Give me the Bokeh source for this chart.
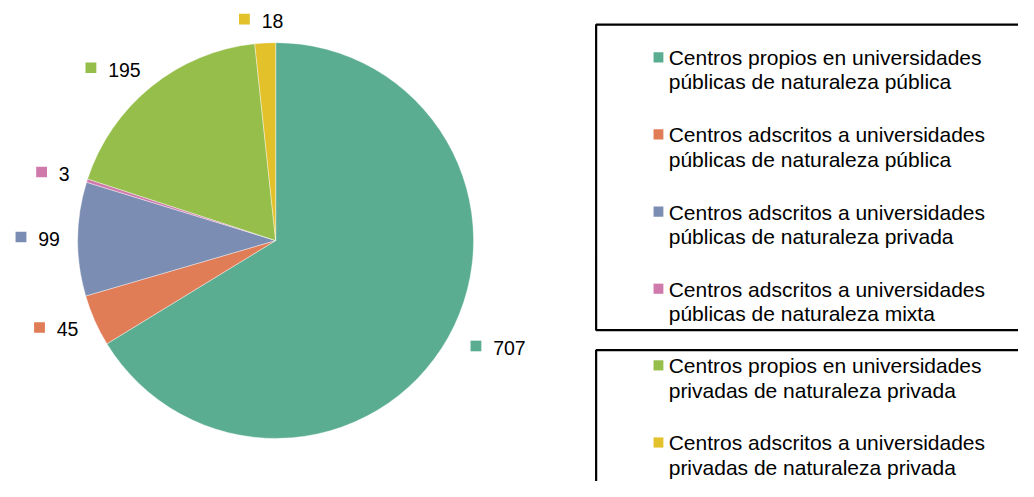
import numpy as np
from bokeh.plotting import figure
from bokeh.models import Range1d, ColumnDataSource
from bokeh.core.properties import value
from bokeh.embed import file_html
from bokeh.resources import INLINE

# ---- data ----
categories = [
    "Centros propios en universidades\npúblicas de naturaleza pública",
    "Centros adscritos a universidades\npúblicas de naturaleza pública",
    "Centros adscritos a universidades\npúblicas de naturaleza privada",
    "Centros adscritos a universidades\npúblicas de naturaleza mixta",
    "Centros propios en universidades\nprivadas de naturaleza privada",
    "Centros adscritos a universidades\nprivadas de naturaleza privada",
]
values = [707, 45, 99, 3, 195, 18]
colors = ["#5aad91", "#e07c56", "#7b8db2", "#d07aac", "#95be4a", "#e2c12a"]
legend_groups = [0, 0, 0, 0, 1, 1]

# ---- layout: data space = reference pixel space (y up) ----
W, H = 1018, 481
RW, RH = 1034, 497
FONT = "Liberation Sans"
cx, cy, R = 279.5, RH - 248.0, 201.0

p = figure(width=W, height=H, output_backend="svg", toolbar_location=None,
           x_range=Range1d(0, RW), y_range=Range1d(0, RH), min_border=0)
p.axis.visible = False
p.grid.visible = False
p.outline_line_color = None
p.background_fill_color = "white"
p.border_fill_color = "white"

vals = np.array(values, dtype=float)
total = vals.sum()
cum_end = np.cumsum(vals)
cum_start = cum_end - vals
start = np.pi / 2 - cum_start / total * 2 * np.pi
end = np.pi / 2 - cum_end / total * 2 * np.pi
mid = np.pi / 2 - (cum_start + vals / 2) / total * 2 * np.pi

src = ColumnDataSource(dict(start=start, end=end, color=colors))
p.wedge(x=cx, y=cy, radius=R, start_angle="start", end_angle="end",
        direction="clock", fill_color="color", line_color="white",
        line_width=0.4, source=src)

# ---- data labels ----
g = 19.0
sq = 11.0
gap = 12.0
lab_fs = 19.5
sq_x, sq_y, tx, ty, txt = [], [], [], [], []
for v, a in zip(values, mid):
    c, s = np.cos(a), np.sin(a)
    px = cx + (R + g) * c
    py = cy + (R + g) * s
    w = sq + gap + 10.6 * len(str(v))
    h = 14.0
    bx = px + (w / 2) * np.clip(3 * c, -1, 1) + (6 if c > 0.5 else 0)
    by = py + (h / 2) * s
    left = bx - w / 2
    sq_x.append(left + sq / 2)
    sq_y.append(by + 2)
    tx.append(left + sq + gap)
    ty.append(by)
    txt.append(str(v))

p.rect(x=sq_x, y=sq_y, width=sq, height=sq, fill_color=colors, line_color=None)
p.text(x=tx, y=ty, text=txt, text_font=value(FONT), text_font_size=f"{lab_fs}px",
       text_baseline="middle", text_align="left", text_color="black")

# ---- legend boxes ----
box_left = 605.0
box_tops = [RH - 25.0, RH - 361.3]
box_bottoms = [RH - 340.5, -20.0]
first_offsets = [26.7, 8.7]
spacing = 79.7
leg_fs = 21
line_h = 25.0

p.quad(left=[box_left] * 2, right=[RW + 20] * 2, top=box_tops, bottom=box_bottoms,
       fill_color=None, line_color="black", line_width=2.2)

lsq_x, lsq_y, l1x, l1y, l1t, l2y, l2t = [], [], [], [], [], [], []
counters = [0, 0]
for i, lab in enumerate(categories):
    gi = legend_groups[i]
    k = counters[gi]
    counters[gi] += 1
    cap_top = box_tops[gi] - first_offsets[gi] - k * spacing
    mid1 = cap_top - 7.5
    lines = lab.split("\n")
    lsq_x.append(668.3)
    lsq_y.append(cap_top - 7.0)
    l1x.append(678.7)
    l1y.append(mid1)
    l1t.append(lines[0])
    l2y.append(mid1 - line_h)
    l2t.append(lines[1])

p.rect(x=lsq_x, y=lsq_y, width=10, height=10.5, fill_color=colors, line_color=None)
p.text(x=l1x, y=l1y, text=l1t, text_font=value(FONT), text_font_size=f"{leg_fs}px",
       text_baseline="middle", text_align="left", text_color="black")
p.text(x=l1x, y=l2y, text=l2t, text_font=value(FONT), text_font_size=f"{leg_fs}px",
       text_baseline="middle", text_align="left", text_color="black")

open("out.html", "w").write(file_html(p, INLINE))
